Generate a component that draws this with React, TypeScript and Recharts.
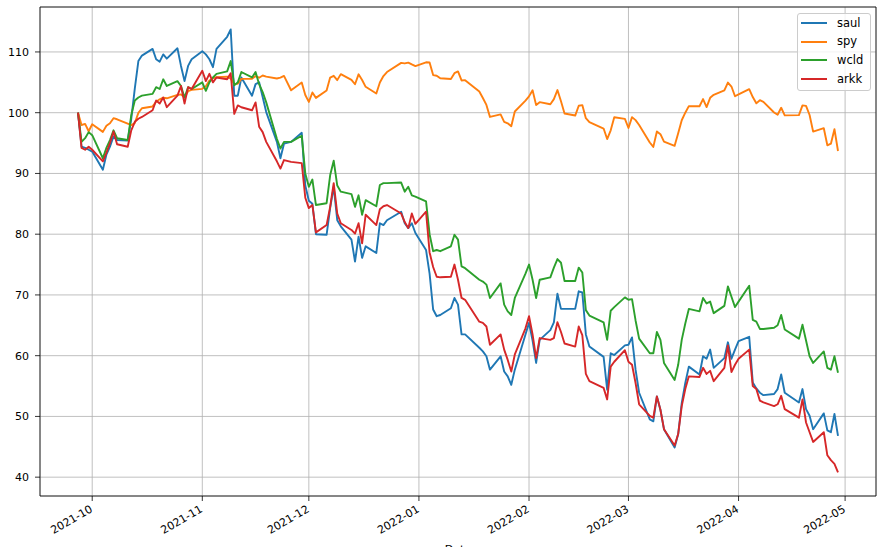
import { CartesianGrid, Legend, Line, LineChart, ReferenceArea, XAxis, YAxis } from 'recharts';

// trading days, normalised to 100 on the first day
const dates = [
  '2021-09-27', '2021-09-28', '2021-09-29', '2021-09-30', '2021-10-01',
  '2021-10-04', '2021-10-05', '2021-10-06', '2021-10-07', '2021-10-08',
  '2021-10-11', '2021-10-12', '2021-10-13', '2021-10-14', '2021-10-15',
  '2021-10-18', '2021-10-19', '2021-10-20', '2021-10-21', '2021-10-22',
  '2021-10-25', '2021-10-26', '2021-10-27', '2021-10-28', '2021-10-29',
  '2021-11-01', '2021-11-02', '2021-11-03', '2021-11-04', '2021-11-05',
  '2021-11-08', '2021-11-09', '2021-11-10', '2021-11-11', '2021-11-12',
  '2021-11-15', '2021-11-16', '2021-11-17', '2021-11-18', '2021-11-19',
  '2021-11-22', '2021-11-23', '2021-11-24', '2021-11-26',
  '2021-11-29', '2021-11-30', '2021-12-01', '2021-12-02', '2021-12-03',
  '2021-12-06', '2021-12-07', '2021-12-08', '2021-12-09', '2021-12-10',
  '2021-12-13', '2021-12-14', '2021-12-15', '2021-12-16', '2021-12-17',
  '2021-12-20', '2021-12-21', '2021-12-22', '2021-12-23',
  '2021-12-27', '2021-12-28', '2021-12-29', '2021-12-30', '2021-12-31',
  '2022-01-03', '2022-01-04', '2022-01-05', '2022-01-06', '2022-01-07',
  '2022-01-10', '2022-01-11', '2022-01-12', '2022-01-13', '2022-01-14',
  '2022-01-18', '2022-01-19', '2022-01-20', '2022-01-21',
  '2022-01-24', '2022-01-25', '2022-01-26', '2022-01-27', '2022-01-28',
  '2022-01-31', '2022-02-01', '2022-02-02', '2022-02-03', '2022-02-04',
  '2022-02-07', '2022-02-08', '2022-02-09', '2022-02-10', '2022-02-11',
  '2022-02-14', '2022-02-15', '2022-02-16', '2022-02-17', '2022-02-18',
  '2022-02-22', '2022-02-23', '2022-02-24', '2022-02-25',
  '2022-02-28', '2022-03-01', '2022-03-02', '2022-03-03', '2022-03-04',
  '2022-03-07', '2022-03-08', '2022-03-09', '2022-03-10', '2022-03-11',
  '2022-03-14', '2022-03-15', '2022-03-16', '2022-03-17', '2022-03-18',
  '2022-03-21', '2022-03-22', '2022-03-23', '2022-03-24', '2022-03-25',
  '2022-03-28', '2022-03-29', '2022-03-30', '2022-03-31', '2022-04-01',
  '2022-04-04', '2022-04-05', '2022-04-06', '2022-04-07', '2022-04-08',
  '2022-04-11', '2022-04-12', '2022-04-13', '2022-04-14',
  '2022-04-18', '2022-04-19', '2022-04-20', '2022-04-21', '2022-04-22',
  '2022-04-25', '2022-04-26', '2022-04-27', '2022-04-28', '2022-04-29',
];

const saul = [
  100, 94.4, 94.2, 93.9, 93.6,
  90.6, 93.1, 94.4, 96.1, 95.5,
  95.4, 99.0, 104.0, 108.5, 109.4,
  110.5, 108.8, 108.4, 109.6, 108.9,
  110.6, 107.7, 105.2, 107.7, 108.8,
  110.1, 109.6, 108.8, 107.5, 110.5,
  112.5, 113.7, 102.8, 102.8, 105.8,
  102.8, 104.7, 105.0, 102.6, 100.1,
  95.2, 92.5, 94.9, 95.2,
  96.7, 88.0, 85.5, 85.0, 80.0,
  79.9, 84.3, 87.8, 82.3, 81.3,
  79.1, 75.5, 79.6, 76.1, 78.0,
  76.9, 81.8, 81.5, 82.3,
  83.7, 81.8, 81.0, 81.8, 80.2,
  77.4, 73.5, 67.6, 66.5, 66.7,
  67.8, 69.5, 68.4, 63.5, 63.5,
  61.3, 60.7, 59.9, 57.7,
  59.9, 57.4, 56.6, 55.2, 57.7,
  63.5, 65.4, 62.5, 58.8, 62.6,
  64.2, 65.5, 70.2, 67.7, 67.7,
  67.7, 70.6, 70.4, 63.5, 61.5,
  59.8, 54.4, 60.4, 60.1,
  61.7, 61.8, 63.0, 57.7, 53.9,
  49.5, 49.2, 53.3, 51.1, 47.9,
  44.9, 47.1, 52.2, 55.5, 58.2,
  56.9, 59.9, 59.5, 61.0, 58.0,
  59.6, 62.2, 59.5, 61.0, 62.4,
  63.1, 55.6, 54.6, 53.9, 53.5,
  53.7, 54.5, 56.9, 53.9,
  52.3, 54.5, 51.2, 50.1, 47.9,
  50.5, 47.7, 47.4, 50.4, 46.8,
];

const spy = [
  100.0, 97.98, 98.15, 96.95, 98.1,
  96.84, 97.84, 98.25, 99.1, 98.92,
  98.2, 97.96, 98.31, 99.97, 100.73,
  101.03, 101.81, 102.21, 102.47, 102.37,
  102.92, 103.01, 102.55, 103.54, 103.75,
  103.93, 104.35, 105.3, 105.66, 105.85,
  105.94, 105.59, 104.74, 104.77, 105.56,
  105.6, 106.02, 105.76, 106.12, 105.93,
  105.63, 105.77, 106.05, 103.69,
  104.96, 102.92, 101.78, 103.33, 102.44,
  103.65, 105.79, 106.07, 105.36, 106.35,
  105.41, 104.68, 106.32, 105.38, 104.26,
  103.15, 104.98, 106.03, 106.69,
  108.2, 108.11, 108.25, 107.95, 107.68,
  108.3, 108.26, 106.19, 106.09, 105.67,
  105.54, 106.5, 106.79, 105.31, 105.36,
  103.49, 102.42, 101.28, 99.3,
  99.72, 98.5, 98.25, 97.77, 100.2,
  102.0, 102.69, 103.69, 101.25, 101.73,
  101.4, 102.23, 103.73, 101.87, 99.86,
  99.53, 101.14, 101.25, 99.09, 98.44,
  97.39, 95.66, 97.1, 99.24,
  98.99, 97.48, 99.27, 98.78, 97.98,
  95.09, 94.37, 96.9, 96.46, 95.23,
  94.54, 96.62, 98.76, 100.0, 101.09,
  101.06, 102.24, 100.93, 102.45, 102.95,
  103.68, 104.96, 104.31, 102.71, 103.0,
  103.88, 102.57, 101.54, 102.06, 101.78,
  100.04, 99.67, 100.81, 99.56,
  99.6, 101.21, 101.13, 99.62, 96.89,
  97.45, 94.63, 94.89, 97.29, 93.69,
];

const wcld = [
  100, 95.2, 95.8, 96.8, 96.3,
  92.5, 94.2, 95.5, 97.1, 95.8,
  95.5, 99.6, 102.0, 102.5, 102.8,
  103.1, 104.2, 103.9, 105.5, 104.4,
  105.2, 104.4, 102.5, 104.2, 103.9,
  105.0, 103.6, 105.0, 105.8, 106.4,
  106.8, 108.5, 104.5, 105.0, 106.7,
  105.8, 106.7, 104.7, 103.4, 101.7,
  95.7, 94.1, 95.2, 95.2,
  96.2, 90.0, 87.8, 89.0, 84.8,
  85.1, 89.7, 92.1, 88.0, 87.0,
  86.6, 84.5, 86.4, 83.2, 85.6,
  84.6, 88.1, 88.4, 88.4,
  88.5, 87.0, 87.8, 86.4, 86.2,
  85.4, 80.0, 77.2, 77.4, 77.2,
  78.0, 79.9, 79.1, 74.7, 74.4,
  72.5, 72.2, 71.7, 69.5,
  71.9, 68.4, 67.3, 66.7, 69.5,
  73.5, 75.0, 72.5, 69.5, 72.5,
  72.9, 74.5, 75.9, 75.3, 72.3,
  72.3, 74.5, 73.7, 67.5, 66.6,
  65.5, 62.6, 67.4, 68.0,
  69.6, 69.2, 69.3, 65.8, 62.8,
  60.4, 60.4, 63.9, 62.6, 58.8,
  56.0, 58.5, 62.6, 65.3, 67.7,
  67.3, 69.5, 68.6, 68.9, 67.0,
  68.2, 71.4, 69.7, 68.0, 68.9,
  71.5, 65.9, 65.6, 64.4, 64.4,
  64.6, 65.0, 66.7, 64.3,
  62.8, 65.1, 62.5, 59.9, 58.8,
  60.7, 58.0, 57.7, 59.9, 57.2,
];

const arkk = [
  100, 94.2, 93.9, 94.4, 93.9,
  92.0, 93.4, 95.0, 96.9, 94.8,
  94.4, 97.1, 98.5, 99.0, 99.3,
  100.4, 102.0, 101.5, 102.5, 100.9,
  102.8, 104.4, 101.5, 104.2, 103.9,
  106.9, 105.2, 106.4, 105.0, 105.8,
  105.5, 106.5, 99.8, 101.2, 100.9,
  100.4, 101.7, 97.7, 96.8, 95.2,
  92.0, 90.8, 92.2, 91.9,
  91.7, 86.0, 84.3, 84.8, 80.3,
  81.5, 84.5, 88.4, 83.4, 81.8,
  80.7, 80.1, 81.8, 78.5, 83.2,
  81.5, 84.1, 84.6, 84.8,
  83.4, 82.0, 81.0, 83.4, 81.7,
  83.7, 77.0, 74.6, 73.0, 72.9,
  73.0, 75.0, 72.5, 69.5, 69.2,
  65.6, 65.4, 64.8, 61.8,
  63.5, 61.0, 59.3, 57.4, 60.2,
  64.5, 66.5, 63.5, 59.6, 62.9,
  62.6, 62.9, 65.5, 63.9, 62.0,
  61.5, 64.8, 63.4, 57.0, 55.8,
  54.7, 52.8, 58.2, 59.0,
  60.9, 59.0, 58.5, 55.5, 52.0,
  50.1, 49.8, 53.3, 51.1, 47.9,
  45.2, 47.1, 51.7, 54.5, 56.6,
  56.5, 58.0, 57.0, 57.5, 55.8,
  58.0, 61.7, 57.3, 58.5, 59.5,
  61.0, 55.0, 54.5, 52.6, 52.3,
  51.7, 52.0, 53.4, 51.2,
  49.8, 52.8, 49.0, 47.4, 45.8,
  47.4, 43.6, 42.8, 42.2, 40.8,
];

const monthTicks = ['2021-10', '2021-11', '2021-12', '2022-01', '2022-02', '2022-03', '2022-04', '2022-05'];
const valueTicks = [40, 50, 60, 70, 80, 90, 100, 110];

const seriesList = [
  { key: 'saul', color: '#1f77b4' },
  { key: 'spy', color: '#ff7f0e' },
  { key: 'wcld', color: '#2ca02c' },
  { key: 'arkk', color: '#d62728' },
];

const FONT = '"DejaVu Sans", sans-serif';

const toTime = (s: string) => Date.parse(`${s}T00:00:00Z`);

const data = dates.map((d, i) => ({
  t: toTime(d),
  saul: saul[i],
  spy: spy[i],
  wcld: wcld[i],
  arkk: arkk[i],
}));

// matplotlib-style 5% margins on the time axis
const tFirst = toTime(dates[0]);
const tLast = toTime(dates[dates.length - 1]);
const tPad = (tLast - tFirst) * 0.05;
const xDomain: [number, number] = [tFirst - tPad, tLast + tPad];
const yDomain: [number, number] = [36.9, 117.4];

const tickTimes = monthTicks.map((m) => toTime(`${m}-01`));

function DateTick({ x, y, payload }: { x?: number; y?: number; payload?: { value: number } }) {
  if (x == null || y == null || !payload) return null;
  const idx = tickTimes.indexOf(payload.value);
  const label = idx >= 0 ? monthTicks[idx] : '';
  const ax = x - 3;
  return (
    <text
      x={ax}
      y={y}
      dy="0.75em"
      textAnchor="end"
      transform={`rotate(-30, ${ax}, ${y})`}
      fill="#000"
      fontSize={11}
      fontFamily={FONT}
    >
      {label}
    </text>
  );
}

function LegendBox() {
  return (
    <div
      style={{
        position: 'relative',
        width: 74,
        height: 78,
        boxSizing: 'border-box',
        background: 'rgba(255,255,255,0.8)',
        border: '1px solid #cccccc',
        borderRadius: 3,
        fontFamily: FONT,
        fontSize: 11.5,
        color: '#000',
      }}
    >
      {seriesList.map((s, i) => {
        const cy = 9 + i * 18.7;
        return (
          <div key={s.key}>
            <div style={{ position: 'absolute', left: 3, top: cy - 1, width: 26, height: 2, background: s.color }} />
            <div style={{ position: 'absolute', left: 39, top: cy - 7.5, lineHeight: '14px' }}>{s.key}</div>
          </div>
        );
      })}
    </div>
  );
}

export default function App() {
  return (
    <div style={{ position: 'absolute', left: 0, top: 0, width: 885, height: 547, background: '#fff' }}>
      <LineChart width={885} height={547} data={data} margin={{ top: 7, right: 9, bottom: 0, left: 0 }}>
        <CartesianGrid stroke="#b0b0b0" strokeWidth={0.8} />
        <XAxis
          dataKey="t"
          type="number"
          scale="time"
          domain={xDomain}
          ticks={tickTimes}
          height={51}
          tick={<DateTick />}
          tickSize={5}
          tickMargin={3}
          tickLine={{ stroke: '#000', strokeWidth: 0.8 }}
          axisLine={false}
          interval={0}
          allowDataOverflow
          label={{ value: 'Date', position: 'bottom', offset: -2, fill: '#000', fontSize: 11, fontFamily: FONT }}
        />
        <YAxis
          type="number"
          domain={yDomain}
          ticks={valueTicks}
          width={40}
          tick={{ fill: '#000', fontSize: 11, fontFamily: FONT }}
          tickSize={5}
          tickMargin={6}
          tickLine={{ stroke: '#000', strokeWidth: 0.8 }}
          axisLine={false}
          interval={0}
          allowDataOverflow
        />
        {seriesList.map((s) => (
          <Line
            key={s.key}
            dataKey={s.key}
            stroke={s.color}
            strokeWidth={1.9}
            strokeLinejoin="round"
            dot={false}
            activeDot={false}
            isAnimationActive={false}
          />
        ))}
        <ReferenceArea
          x1={xDomain[0]}
          x2={xDomain[1]}
          y1={yDomain[0]}
          y2={yDomain[1]}
          fill="none"
          stroke="#000"
          strokeWidth={0.8}
          ifOverflow="visible"
        />
        <Legend
          layout="horizontal"
          align="center"
          verticalAlign="middle"
          content={() => <LegendBox />}
          wrapperStyle={{ left: 797, top: 13, width: 74, height: 78 }}
        />
      </LineChart>
    </div>
  );
}
